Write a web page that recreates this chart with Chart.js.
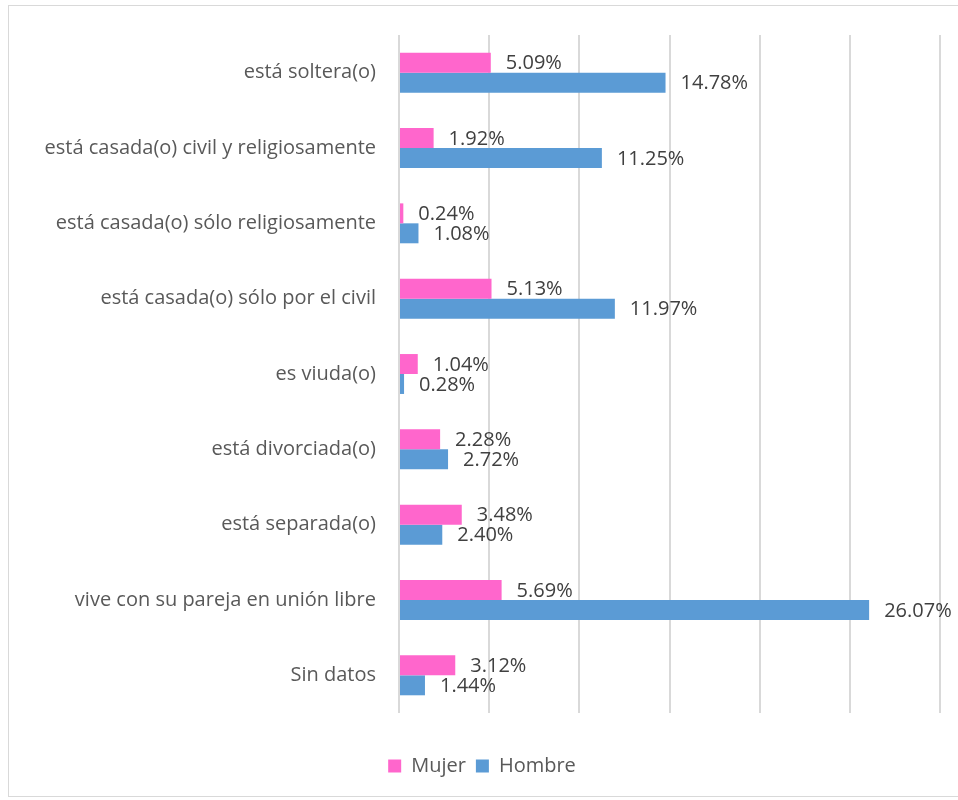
<!DOCTYPE html>
<html>
<head>
<meta charset="utf-8">
<script src="https://cdn.jsdelivr.net/npm/chart.js@4"></script>
<style>
  html, body { margin: 0; padding: 0; background: #fff; }
  #wrap { width: 958px; height: 800px; }
</style>
</head>
<body>
<div id="wrap"><canvas id="plot"></canvas></div>
<script>
const categories = [
  'está soltera(o)',
  'está casada(o) civil y religiosamente',
  'está casada(o) sólo religiosamente',
  'está casada(o) sólo por el civil',
  'es viuda(o)',
  'está divorciada(o)',
  'está separada(o)',
  'vive con su pareja en unión libre',
  'Sin datos'
];
const mujer  = [5.09, 1.92, 0.24, 5.13, 1.04, 2.28, 3.48, 5.69, 3.12];
const hombre = [14.78, 11.25, 1.08, 11.97, 0.28, 2.72, 2.40, 26.07, 1.44];

const PINK = '#FF66CC';
const BLUE = '#5B9BD5';
const FONT = 'Open Sans';

// values written after each bar end
const barLabels = {
  id: 'barLabels',
  afterDatasetsDraw(chart) {
    const ctx = chart.ctx;
    ctx.save();
    ctx.font = '20px "' + FONT + '"';
    ctx.fillStyle = '#404040';
    ctx.textAlign = 'left';
    ctx.textBaseline = 'middle';
    chart.data.datasets.forEach((ds, i) => {
      chart.getDatasetMeta(i).data.forEach((bar, j) => {
        ctx.fillText(ds.data[j].toFixed(2) + '%', bar.x + 15, bar.y + 1);
      });
    });
    ctx.restore();
  }
};

// light frame round the whole chart, legend nudged right a little
const frame = {
  id: 'frame',
  afterLayout(chart) {
    chart.legend.left += 8;
    chart.legend.right += 8;
  },
  beforeDraw(chart) {
    const ctx = chart.ctx;
    ctx.save();
    ctx.strokeStyle = '#d9d9d9';
    ctx.lineWidth = 1;
    ctx.strokeRect(8.5, 5.5, 958, 791);
    ctx.restore();
  }
};

new Chart(document.getElementById('plot'), {
  type: 'bar',
  data: {
    labels: categories,
    datasets: [
      { label: 'Mujer', data: mujer, backgroundColor: PINK },
      { label: 'Hombre', data: hombre, backgroundColor: BLUE }
    ]
  },
  options: {
    indexAxis: 'y',
    responsive: true,
    maintainAspectRatio: false,
    animation: false,
    categoryPercentage: 0.53,
    barPercentage: 1.0,
    layout: { padding: { left: 8, right: 18, top: 34, bottom: 14 } },
    plugins: {
      legend: {
        position: 'bottom',
        labels: {
          boxWidth: 13,
          boxHeight: 13,
          padding: 10,
          color: '#595959',
          font: { family: FONT, size: 20 }
        }
      },
      tooltip: { enabled: false }
    },
    scales: {
      x: {
        min: 0,
        max: 30,
        ticks: { display: false, stepSize: 5 },
        grid: { color: '#d9d9d9', lineWidth: 2, drawTicks: false },
        border: { display: false },
        afterFit(scale) { scale.height = 33; }
      },
      y: {
        grid: { display: false, drawTicks: false },
        border: { display: false },
        ticks: {
          padding: 23,
          color: '#595959',
          font: { family: FONT, size: 20 }
        },
        afterFit(scale) { scale.width = 391; }
      }
    }
  },
  plugins: [barLabels, frame]
});
</script>
</body>
</html>
